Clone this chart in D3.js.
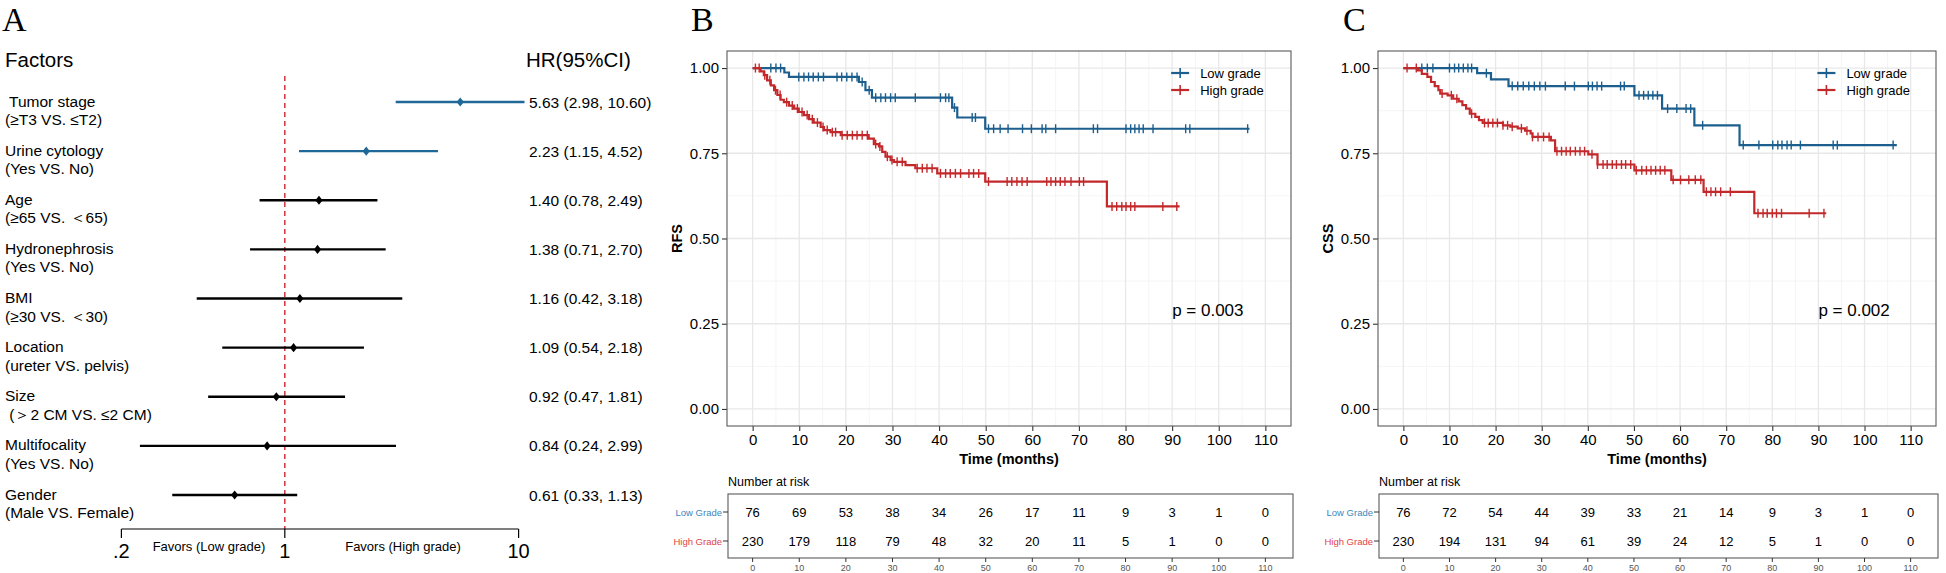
<!DOCTYPE html>
<html><head><meta charset="utf-8">
<script src="https://cdn.jsdelivr.net/npm/d3@7"></script>
<style>body{margin:0;background:#fff}svg{display:block;font-family:"Liberation Sans",Arial,sans-serif}</style>
</head><body>
<script>
// ---------------- DATA ----------------
const factorNames = [" Tumor stage","Urine cytology","Age","Hydronephrosis","BMI","Location","Size","Multifocality","Gender"];
const factorSubs = ["(≥T3 VS. ≤T2)","(Yes VS. No)","(≥65 VS. ＜65)","(Yes VS. No)","(≥30 VS. ＜30)","(ureter VS. pelvis)"," (＞2 CM VS. ≤2 CM)","(Yes VS. No)","(Male VS. Female)"];
const hrValues = [5.63,2.23,1.40,1.38,1.16,1.09,0.92,0.84,0.61];
const hrLower = [2.98,1.15,0.78,0.71,0.42,0.54,0.47,0.24,0.33];
const hrUpper = [10.60,4.52,2.49,2.70,3.18,2.18,1.81,2.99,1.13];
const hrLabels = ["5.63 (2.98, 10.60)","2.23 (1.15, 4.52)","1.40 (0.78, 2.49)","1.38 (0.71, 2.70)","1.16 (0.42, 3.18)","1.09 (0.54, 2.18)","0.92 (0.47, 1.81)","0.84 (0.24, 2.99)","0.61 (0.33, 1.13)"];
const forestTicks = [0.2,1,10];
const forestTickLabels = [".2","1","10"];

const timeTicks = [0,10,20,30,40,50,60,70,80,90,100,110];
const survTicks = [0,0.25,0.5,0.75,1];

// RFS low grade
const rfsLowEventT = [6.8,7.8,22.8,24.2,25.6,42.8,43.9,49.9];
const rfsLowEventS = [0.987,0.974,0.959,0.935,0.913,0.884,0.855,0.822];
const rfsLowCensor = [3.9,5.0,6.0,9.9,11,12,13,14.1,15.2,18.1,19.1,20.2,21.3,22.4,23.5,25.0,26.4,27.5,28.5,29.6,30.6,34.9,40.3,41.4,42.1,43.3,47.1,47.8,50.6,51.7,53.1,54.8,57.9,59.8,62.1,62.9,65.0,73.1,74.0,80.1,81.1,82.0,82.9,83.8,85.9,92.9,93.8,106.2];
const rfsLowEnd = 106.6;
// RFS high grade
const rfsHighEventT = [1.7,2.4,3.1,3.9,4.6,5.3,6.0,6.7,7.8,8.9,9.9,11.0,12.1,13.1,14.6,15.3,16.7,18.9,24.9,26.0,27.1,27.8,28.5,29.6,30.3,32.8,34.9,39.6,49.9,76.0];
const rfsHighEventS = [0.990,0.979,0.964,0.949,0.935,0.921,0.907,0.900,0.890,0.881,0.871,0.862,0.850,0.840,0.827,0.818,0.812,0.803,0.793,0.777,0.770,0.754,0.740,0.730,0.725,0.715,0.706,0.691,0.667,0.594];
const rfsHighCensor = [0.6,1.4,2.6,3.7,4.9,5.9,7.3,8.5,9.6,10.6,11.7,12.8,13.9,15.1,16.0,17.1,17.8,19.2,20.3,21.4,22.4,23.5,24.6,26.4,27.3,28.9,29.9,31.0,32.1,35.3,36.4,37.4,38.5,40.3,41.4,42.4,43.5,44.6,46.4,47.4,48.5,50.6,54.6,55.6,56.7,57.8,58.9,63.1,64.0,65.0,66.0,67.0,68.3,70.1,71.0,77.1,78.1,79.2,80.1,81.1,82.0,88.0,91.0];
const rfsHighEnd = 91.6;
// CSS low grade
const cssLowEventT = [16.0,19.0,22.8,50.1,56.1,63.1,72.9];
const cssLowEventS = [0.985,0.967,0.947,0.920,0.881,0.832,0.774];
const cssLowCensor = [4.0,5.2,6.4,10.0,11.1,12.0,13.0,14.0,14.8,18.0,23.6,24.8,26.0,27.2,28.4,29.6,30.8,35.1,37.1,40.1,41.0,42.0,43.0,47.1,47.9,51.1,52.1,53.1,54.1,55.1,57.3,59.3,61.3,62.3,64.9,73.7,77.1,80.1,81.2,82.1,83.2,84.1,86.1,93.2,94.1,106.2];
const cssLowEnd = 107.0;
// CSS high grade
const cssHighEventT = [3.2,4.0,5.2,6.0,6.8,7.6,8.0,9.6,10.8,12.0,12.8,13.6,14.4,15.6,16.4,17.2,21.6,23.2,24.8,26.4,27.6,28.0,32.0,32.9,40.1,42.1,50.1,58.1,65.1,76.1];
const cssHighEventS = [0.993,0.983,0.974,0.959,0.947,0.935,0.925,0.920,0.910,0.902,0.891,0.881,0.866,0.857,0.847,0.839,0.832,0.828,0.823,0.816,0.808,0.798,0.788,0.756,0.747,0.717,0.700,0.672,0.637,0.574];
const cssHighCensor = [0.8,2.8,8.4,10.4,11.6,14.8,17.6,18.4,19.4,20.4,21.6,22.6,23.6,25.6,26.8,28.0,29.2,30.4,31.6,33.3,34.3,35.3,36.2,37.3,38.3,39.3,40.9,42.1,43.3,44.2,45.3,46.2,47.3,48.2,49.3,50.5,51.7,52.7,53.7,54.7,55.7,56.7,58.5,60.1,61.9,63.3,64.5,65.7,66.7,67.7,68.8,70.9,76.9,78.0,78.9,80.0,80.9,82.0,88.0,91.2];
const cssHighEnd = 91.7;

const rfsRiskLow = [76,69,53,38,34,26,17,11,9,3,1,0];
const rfsRiskHigh = [230,179,118,79,48,32,20,11,5,1,0,0];
const cssRiskLow = [76,72,54,44,39,33,21,14,9,3,1,0];
const cssRiskHigh = [230,194,131,94,61,39,24,12,5,1,0,0];

const groupNames = ["Low grade","High grade"];
const riskRowNames = ["Low Grade","High Grade"];

// ---------------- STYLE ----------------
const W = 1946, H = 573;
const BLUE = "#1c5f8e", RED = "#c3282b", FBLUE = "#1f6898";
const LBLUE = "#3b87bd", LRED = "#df4549";
const SERIF = "'Liberation Serif','Times New Roman',serif";

const svg = d3.select("body").append("svg").attr("width", W).attr("height", H);

// ---------------- PANEL A: forest ----------------
svg.append("text").attr("x", 2).attr("y", 31).attr("font-family", SERIF).attr("font-size", 34).text("A");
svg.append("text").attr("x", 5).attr("y", 67).attr("font-size", 20.5).text("Factors");
svg.append("text").attr("x", 526).attr("y", 67).attr("font-size", 20.5).text("HR(95%CI)");

const xF = d3.scaleLog().domain([0.2, 10]).range([121.4, 518.6]);
const yF = d3.scalePoint().domain(d3.range(factorNames.length)).range([102, 495]);
const gA = svg.append("g");

gA.append("line").attr("x1", xF(1)).attr("x2", xF(1)).attr("y1", 76).attr("y2", 529)
  .attr("stroke", "#d0343a").attr("stroke-width", 1.5).attr("stroke-dasharray", "5,4");

factorNames.forEach((nm, i) => {
  const y = yF(i);
  const col = hrLower[i] > 1 ? FBLUE : "#000";
  gA.append("text").attr("x", 5).attr("y", y + 4.5).attr("font-size", 15.5).attr("xml:space", "preserve").text(nm);
  gA.append("text").attr("x", 5).attr("y", y + 23).attr("font-size", 15.5).attr("xml:space", "preserve").text(factorSubs[i]);
  gA.append("line").attr("x1", xF(hrLower[i])).attr("x2", xF(hrUpper[i])).attr("y1", y).attr("y2", y)
    .attr("stroke", col).attr("stroke-width", 2.4);
  const cx = xF(hrValues[i]);
  gA.append("path").attr("d", `M${cx},${y-4.6}L${cx+3.6},${y}L${cx},${y+4.6}L${cx-3.6},${y}Z`).attr("fill", col);
  gA.append("text").attr("x", 529).attr("y", y + 5.5).attr("font-size", 15.5).text(hrLabels[i]);
});
// axis
gA.append("line").attr("x1", xF(0.2)).attr("x2", xF(10)).attr("y1", 529).attr("y2", 529).attr("stroke", "#000").attr("stroke-width", 1.2);
forestTicks.forEach((t, i) => {
  gA.append("line").attr("x1", xF(t)).attr("x2", xF(t)).attr("y1", 529).attr("y2", 538).attr("stroke", "#000").attr("stroke-width", 1.2);
  gA.append("text").attr("x", xF(t)).attr("y", 558).attr("font-size", 20).attr("text-anchor", "middle").text(forestTickLabels[i]);
});
gA.append("text").attr("x", 209).attr("y", 551).attr("font-size", 13).attr("text-anchor", "middle").text("Favors (Low grade)");
gA.append("text").attr("x", 403).attr("y", 551).attr("font-size", 13).attr("text-anchor", "middle").text("Favors (High grade)");

// ---------------- KM panels ----------------
function kmPanel(opt) {
  const g = svg.append("g");
  const L = opt.left, R = opt.right, T = 51, B = 426;
  const x = d3.scaleLinear().domain([-5.5, 115.5]).range([L, R]);
  const y = d3.scaleLinear().domain([-0.05, 1.05]).range([B, T]);

  g.append("text").attr("x", opt.letterX).attr("y", 31).attr("font-family", SERIF).attr("font-size", 34).text(opt.letter);

  // grid
  const minorX = d3.range(5, 115, 10), minorY = [0.125, 0.375, 0.625, 0.875];
  minorX.forEach(v => g.append("line").attr("x1", x(v)).attr("x2", x(v)).attr("y1", T).attr("y2", B).attr("stroke", "#f2f2f2").attr("stroke-width", 0.8));
  minorY.forEach(v => g.append("line").attr("y1", y(v)).attr("y2", y(v)).attr("x1", L).attr("x2", R).attr("stroke", "#f2f2f2").attr("stroke-width", 0.8));
  timeTicks.forEach(v => g.append("line").attr("x1", x(v)).attr("x2", x(v)).attr("y1", T).attr("y2", B).attr("stroke", "#e8e8e8").attr("stroke-width", 1.3));
  survTicks.forEach(v => g.append("line").attr("y1", y(v)).attr("y2", y(v)).attr("x1", L).attr("x2", R).attr("stroke", "#e8e8e8").attr("stroke-width", 1.3));

  // axes
  const xa = g.append("g").attr("transform", `translate(0,${B})`)
    .call(d3.axisBottom(x).tickValues(timeTicks).tickSize(5).tickPadding(3).tickFormat(d3.format("d")));
  xa.select(".domain").remove();
  xa.selectAll("line").attr("stroke", "#333").attr("stroke-width", 1.1);
  xa.selectAll("text").attr("font-size", 15).attr("fill", "#000").attr("font-family", "'Liberation Sans',Arial,sans-serif");
  const ya = g.append("g").attr("transform", `translate(${L},0)`)
    .call(d3.axisLeft(y).tickValues(survTicks).tickSize(5).tickPadding(3).tickFormat(d3.format(".2f")));
  ya.select(".domain").remove();
  ya.selectAll("line").attr("stroke", "#333").attr("stroke-width", 1.1);
  ya.selectAll("text").attr("font-size", 15).attr("fill", "#000").attr("font-family", "'Liberation Sans',Arial,sans-serif");

  g.append("text").attr("x", x(55)).attr("y", 464).attr("font-size", 14.5).attr("font-weight", "bold").attr("text-anchor", "middle").text("Time (months)");
  g.append("text").attr("transform", `translate(${L - 45},${y(0.5)}) rotate(-90)`).attr("font-size", 14.5).attr("font-weight", "bold").attr("text-anchor", "middle").text(opt.ylab);

  // curves
  const curves = [
    {t: opt.lowT, s: opt.lowS, c: opt.lowC, end: opt.lowEnd, col: BLUE},
    {t: opt.highT, s: opt.highS, c: opt.highC, end: opt.highEnd, col: RED}
  ];
  const line = d3.line().x(d => x(d[0])).y(d => y(d[1])).curve(d3.curveStepAfter);
  curves.forEach(cv => {
    const pts = [[0, 1]];
    cv.t.forEach((tt, i) => pts.push([tt, cv.s[i]]));
    pts.push([cv.end, cv.s[cv.s.length - 1]]);
    g.append("path").attr("d", line(pts)).attr("fill", "none").attr("stroke", cv.col).attr("stroke-width", 2.2);
    const survAt = tt => { let s = 1; cv.t.forEach((e, i) => { if (e <= tt) s = cv.s[i]; }); return s; };
    cv.c.forEach(ct => {
      const cx = x(ct), cy = y(survAt(ct));
      g.append("line").attr("x1", cx).attr("x2", cx).attr("y1", cy - 4.5).attr("y2", cy + 4.5).attr("stroke", cv.col).attr("stroke-width", 1.4);
    });
  });

  // border
  g.append("rect").attr("x", L).attr("y", T).attr("width", R - L).attr("height", B - T).attr("fill", "none").attr("stroke", "#5a5a5a").attr("stroke-width", 1.1);

  // legend
  const lx = x(90);
  groupNames.forEach((nm, i) => {
    const ly = 73 + i * 17;
    const col = i === 0 ? BLUE : RED;
    g.append("line").attr("x1", lx - 1).attr("x2", lx + 17).attr("y1", ly).attr("y2", ly).attr("stroke", col).attr("stroke-width", 2.2);
    g.append("line").attr("x1", lx + 8).attr("x2", lx + 8).attr("y1", ly - 5).attr("y2", ly + 5).attr("stroke", col).attr("stroke-width", 1.6);
    g.append("text").attr("x", lx + 28).attr("y", ly + 5).attr("font-size", 13).text(nm);
  });
  g.append("text").attr("x", x(90)).attr("y", 316).attr("font-size", 17).text(opt.p);

  // risk table
  const RT = 494, RB = 558;
  g.append("text").attr("x", L + 1).attr("y", 486).attr("font-size", 12.5).text("Number at risk");
  g.append("rect").attr("x", L + 1).attr("y", RT).attr("width", R - L + 1).attr("height", RB - RT).attr("fill", "none").attr("stroke", "#5a5a5a").attr("stroke-width", 1.1);
  const rows = [opt.riskLow, opt.riskHigh];
  const rowY = [512, 541];
  rows.forEach((arr, r) => {
    const col = r === 0 ? LBLUE : LRED;
    g.append("line").attr("x1", L - 4).attr("x2", L + 1).attr("y1", rowY[r]).attr("y2", rowY[r]).attr("stroke", "#333");
    g.append("text").attr("x", L - 5).attr("y", rowY[r] + 3.5).attr("font-size", 9.5).attr("text-anchor", "end").attr("fill", col).text(riskRowNames[r]);
    arr.forEach((v, i) => {
      g.append("text").attr("x", x(timeTicks[i])).attr("y", rowY[r] + 4.5).attr("font-size", 13).attr("text-anchor", "middle").text(v);
    });
  });
  timeTicks.forEach(t => {
    g.append("line").attr("x1", x(t)).attr("x2", x(t)).attr("y1", RB).attr("y2", RB + 4).attr("stroke", "#333");
    g.append("text").attr("x", x(t)).attr("y", 571).attr("font-size", 9).attr("fill", "#555").attr("text-anchor", "middle").text(t);
  });
}

kmPanel({left: 727, right: 1291, letter: "B", letterX: 691, ylab: "RFS", p: "p = 0.003",
  lowT: rfsLowEventT, lowS: rfsLowEventS, lowC: rfsLowCensor, lowEnd: rfsLowEnd,
  highT: rfsHighEventT, highS: rfsHighEventS, highC: rfsHighCensor, highEnd: rfsHighEnd,
  riskLow: rfsRiskLow, riskHigh: rfsRiskHigh});
kmPanel({left: 1378, right: 1936, letter: "C", letterX: 1343, ylab: "CSS", p: "p = 0.002",
  lowT: cssLowEventT, lowS: cssLowEventS, lowC: cssLowCensor, lowEnd: cssLowEnd,
  highT: cssHighEventT, highS: cssHighEventS, highC: cssHighCensor, highEnd: cssHighEnd,
  riskLow: cssRiskLow, riskHigh: cssRiskHigh});
</script>
</body></html>
